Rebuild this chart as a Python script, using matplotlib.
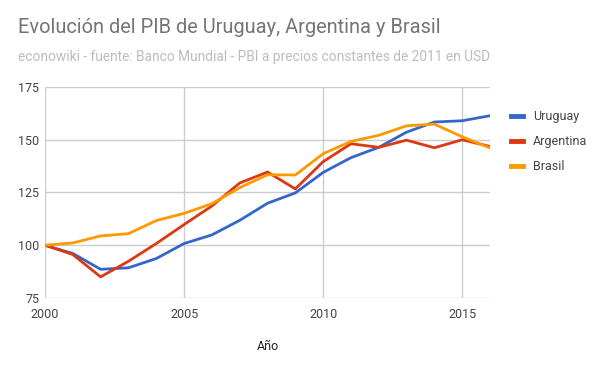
import matplotlib
matplotlib.use("Agg")
import matplotlib.pyplot as plt

years = list(range(2000, 2017))
uruguay = [100, 96.1, 88.6, 89.3, 93.7, 100.8, 104.9, 111.8, 119.9, 124.8, 134.5, 141.5, 146.4, 153.6, 158.4, 159.0, 161.4]
argentina = [100, 95.6, 85.0, 92.4, 100.8, 109.8, 118.6, 129.5, 134.7, 126.7, 139.6, 148.1, 146.4, 149.8, 146.2, 150.0, 146.8]
brasil = [100, 101.1, 104.4, 105.5, 111.7, 115.1, 119.7, 127.3, 133.4, 133.3, 143.4, 149.2, 152.1, 156.6, 157.4, 151.4, 146.1]
series_names = ["Uruguay", "Argentina", "Brasil"]
colors = ["#3366cc", "#dc3912", "#ff9900"]
xticks = [2000, 2005, 2010, 2015]
yticks = [75, 100, 125, 150, 175]

plt.rcParams['font.family'] = ['Roboto', 'DejaVu Sans']

fig = plt.figure(figsize=(6, 3.71), dpi=100)
ax = fig.add_axes([0.075, 0.1968, 0.7417, 0.5687])

for name, vals, c in zip(series_names, [uruguay, argentina, brasil], colors):
    ax.plot(years, vals, color=c, lw=2, label=name, solid_joinstyle='round')

ax.set_xlim(2000, 2016)
ax.set_ylim(75, 175)
ax.set_xticks(xticks)
ax.set_yticks(yticks)
ax.grid(True, color="#cccccc", lw=1)
ax.set_axisbelow(True)
for s in ax.spines.values():
    s.set_visible(False)
ax.tick_params(length=0, colors="#444444", labelsize=9)
ax.tick_params(axis='x', pad=7)
ax.tick_params(axis='y', pad=4)
ax.set_xlabel("Año", color="#222222", fontsize=9, labelpad=14)

fig.text(0.03, 0.91, "Evolución del PIB de Uruguay, Argentina y Brasil", fontsize=14.4, color="#757575", va='baseline')
fig.text(0.03, 0.835, "econowiki - fuente: Banco Mundial - PBI a precios constantes de 2011 en USD", fontsize=9.95, color="#bdbdbd", va='baseline')

leg = ax.legend(loc='upper left', bbox_to_anchor=(1.035, 0.915), frameon=False, fontsize=9,
                handlelength=1.0, handletextpad=0.8, labelspacing=0.98, borderaxespad=0)
for t in leg.get_texts():
    t.set_color("#444444")
for h in leg.get_lines():
    h.set_linewidth(3.5)

fig.savefig("out.png", dpi=100)
